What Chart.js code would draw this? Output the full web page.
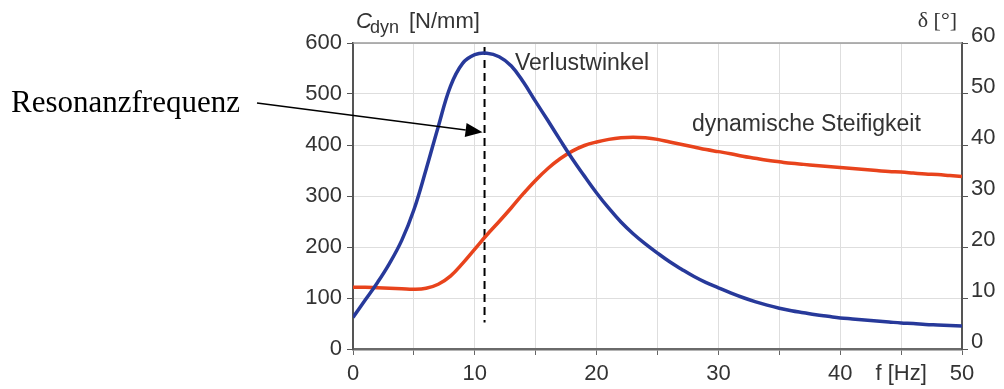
<!DOCTYPE html>
<html>
<head>
<meta charset="utf-8">
<script src="https://cdn.jsdelivr.net/npm/chart.js@4/dist/chart.umd.min.js"></script>
<style>
  html, body { margin: 0; padding: 0; background: #fff; }
  #wrap { width: 1004px; height: 389px; position: relative; }
</style>
</head>
<body>
<div id="wrap"><canvas id="chart"></canvas></div>
<script>
// frequency f [Hz]
const freq = [0,1,2,3,4,5,6,7,8,9,10,11,12,13,14,15,16,17,18,19,20,21,22,23,24,25,
  26,27,28,29,30,31,32,33,34,35,36,37,38,39,40,41,42,43,44,45,46,47,48,49,50];

// Verlustwinkel delta [deg] (right axis)
const lossAngle = [6.2,9.6,13.0,16.8,21.3,27.3,35.2,43.6,51.5,56.0,57.7,58.0,57.3,55.5,52.3,48.5,
  44.8,41.0,37.3,33.9,30.6,27.6,24.9,22.6,20.6,18.8,17.1,15.6,14.2,13.0,12.0,11.0,10.1,9.3,8.6,8.0,
  7.5,7.1,6.7,6.4,6.1,5.9,5.7,5.5,5.3,5.1,5.0,4.8,4.7,4.6,4.5];

// dynamische Steifigkeit C_dyn [N/mm] (left axis)
const stiffness = [121,121,120,119,118,117,119,127,143,168,196,224,250,277,305,331,354,373,388,399,
  406,411,414,415,414,411,406,401,396,391,387,383,378,374,370,367,364,362,360,358,356,354,352,350,
  348,347,345,343,342,340,338];

// resonance marker (dashed line)
const resonanceF = [10.8, 10.8];
const resonanceC = [592, 52];

const xTickLabels = { 0: '0', 10: '10', 20: '20', 30: '30', 40: '40', 45: 'f [Hz]', 50: '50' };

const BLUE = '#27399a';
const RED = '#e8431c';
const TXT = '#333333';
const SANS = "'Liberation Sans', Arial, sans-serif";
const SERIF = "'Liberation Serif', 'Times New Roman', serif";

const pts = (xs, ys) => xs.map((x, i) => ({ x, y: ys[i] }));

const annotations = {
  id: 'annotations',
  afterDraw(chart) {
    const { ctx, chartArea: a, scales } = chart;
    ctx.save();
    // top frame line
    ctx.strokeStyle = '#9a9a9a';
    ctx.lineWidth = 1.5;
    ctx.beginPath();
    ctx.moveTo(a.left, a.top);
    ctx.lineTo(a.right, a.top);
    ctx.stroke();

    ctx.fillStyle = TXT;
    ctx.textBaseline = 'alphabetic';
    ctx.textAlign = 'left';
    ctx.font = '23px ' + SANS;
    ctx.fillText('Verlustwinkel', 515, 70);
    ctx.fillText('dynamische Steifigkeit', 692, 131);

    // axis titles
    ctx.font = 'italic 22px ' + SANS;
    ctx.fillText('C', 356, 28);
    ctx.font = '18px ' + SANS;
    ctx.fillText('dyn', 370, 33);
    ctx.font = '22px ' + SANS;
    ctx.fillText('[N/mm]', 409, 28);
    ctx.textAlign = 'right';
    ctx.font = '22px ' + SERIF;
    ctx.fillText('δ [°]', 957, 27);

    // Resonanzfrequenz label + arrow
    ctx.textAlign = 'left';
    ctx.fillStyle = '#000';
    ctx.font = '31px ' + SERIF;
    ctx.fillText('Resonanzfrequenz', 11, 112);

    const x0 = 257, y0 = 103;
    const x1 = scales.x.getPixelForValue(resonanceF[0]) - 2;
    const y1 = scales.y.getPixelForValue(425);
    const ang = Math.atan2(y1 - y0, x1 - x0);
    const len = 17, half = 7;
    ctx.strokeStyle = '#000';
    ctx.lineWidth = 1.6;
    ctx.beginPath();
    ctx.moveTo(x0, y0);
    ctx.lineTo(x1 - len * Math.cos(ang), y1 - len * Math.sin(ang));
    ctx.stroke();
    ctx.beginPath();
    ctx.moveTo(x1, y1);
    ctx.lineTo(x1 - len * Math.cos(ang) + half * Math.sin(ang), y1 - len * Math.sin(ang) - half * Math.cos(ang));
    ctx.lineTo(x1 - len * Math.cos(ang) - half * Math.sin(ang), y1 - len * Math.sin(ang) + half * Math.cos(ang));
    ctx.closePath();
    ctx.fill();
    ctx.restore();
  }
};

const tickFont = { family: SANS, size: 22 };

new Chart(document.getElementById('chart'), {
  type: 'line',
  data: {
    datasets: [
      {
        label: 'Verlustwinkel',
        data: pts(freq, lossAngle),
        yAxisID: 'y2',
        borderColor: BLUE,
        borderWidth: 3.5,
        pointRadius: 0,
        tension: 0.4,
      },
      {
        label: 'dynamische Steifigkeit',
        data: pts(freq, stiffness),
        yAxisID: 'y',
        borderColor: RED,
        borderWidth: 3.5,
        pointRadius: 0,
        tension: 0.4,
      },
      {
        label: 'Resonanzfrequenz',
        data: pts(resonanceF, resonanceC),
        yAxisID: 'y',
        borderColor: '#000',
        borderWidth: 2,
        borderDash: [8, 5],
        pointRadius: 0,
      }
    ]
  },
  options: {
    responsive: true,
    maintainAspectRatio: false,
    animation: false,
    layout: { padding: { top: 43, left: 0, right: 0, bottom: 0 } },
    plugins: { legend: { display: false }, tooltip: { enabled: false } },
    scales: {
      x: {
        type: 'linear', min: 0, max: 50,
        ticks: {
          stepSize: 5, autoSkip: false, maxRotation: 0, color: TXT, font: tickFont, padding: 6,
          callback: v => xTickLabels[v] ?? ''
        },
        grid: { color: '#dedede', tickColor: '#666', tickLength: 6 },
        border: { color: '#6a6a6a', width: 2.5 },
        afterFit: s => { s.height = 40; }
      },
      y: {
        position: 'left', min: 0, max: 600,
        ticks: { stepSize: 100, color: TXT, font: tickFont, padding: 5 },
        grid: { color: '#dedede', tickColor: '#555', tickLength: 6 },
        border: { color: '#555', width: 2 },
        afterFit: s => { s.width = 353; }
      },
      y2: {
        position: 'right', min: 0, max: 60,
        ticks: { stepSize: 10, color: TXT, font: tickFont, padding: 3, labelOffset: -7 },
        grid: { drawOnChartArea: false, tickColor: '#555', tickLength: 6 },
        border: { color: '#555', width: 2 },
        afterFit: s => { s.width = 42; }
      }
    }
  },
  plugins: [annotations]
});
</script>
</body>
</html>
